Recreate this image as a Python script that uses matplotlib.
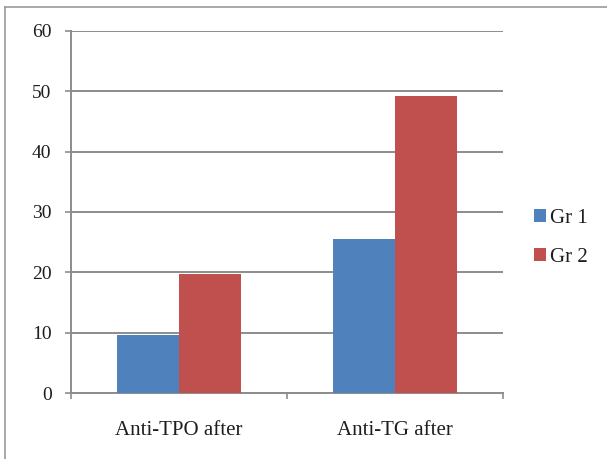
import matplotlib
matplotlib.use("Agg")
import matplotlib.pyplot as plt
import numpy as np
from matplotlib.lines import Line2D

categories = ["Anti-TPO after", "Anti-TG after"]
series_names = ["Gr 1", "Gr 2"]
gr1 = [9.6, 25.6]
gr2 = [19.7, 49.2]
yticks = [0, 10, 20, 30, 40, 50, 60]

colors = ["#4F81BD", "#C0504D"]
grid_col = "#8c8c8c"
font = ["Liberation Serif", "DejaVu Serif"]
text_col = "#1e1e1e"

fig = plt.figure(figsize=(6.07, 4.59), dpi=100)
ax = fig.add_axes([71/607, 1-393/459, (503-71)/607, (393-31)/459])

x = np.arange(len(categories))
w = 0.285
ax.bar(x - w/2, gr1, width=w, color=colors[0], label=series_names[0], zorder=3)
ax.bar(x + w/2, gr2, width=w, color=colors[1], label=series_names[1], zorder=3)

ax.set_xlim(-0.5, 1.5)
ax.set_ylim(0, 60)
ax.set_yticks(yticks)
ax.set_yticklabels([str(t) for t in yticks], fontfamily=font, fontsize=14, color=text_col)
ax.yaxis.grid(True, color=grid_col, linewidth=1.4, zorder=0)
ax.set_axisbelow(True)

ax.set_xticks([-0.5, 0.5, 1.5])
ax.set_xticklabels([])
ax.set_xticks(x, minor=True)
ax.set_xticklabels(categories, minor=True, fontfamily=font, fontsize=15, color=text_col)
ax.tick_params(axis="x", which="minor", length=0, pad=20)
ax.tick_params(axis="x", which="major", length=4, color=grid_col, width=1.2, direction="out")
ax.tick_params(axis="y", length=4, color=grid_col, width=1.2, pad=10)

for s in ["top", "right"]:
    ax.spines[s].set_visible(False)
for s in ["left", "bottom"]:
    ax.spines[s].set_color(grid_col)
    ax.spines[s].set_linewidth(1.4)

leg = fig.legend(loc="center left", bbox_to_anchor=(515/607, 1-238/459), frameon=False,
                 handlelength=0.6, handleheight=0.6, handletextpad=0.2, labelspacing=0.95,
                 prop={"family": font, "size": 15})
for t in leg.get_texts():
    t.set_color(text_col)

# figure frame (left and top edges)
fig.add_artist(Line2D([5/607, 5/607], [0, 1-7/459], transform=fig.transFigure, color="#9a9a9a", linewidth=1.2))
fig.add_artist(Line2D([5/607, 1], [1-7/459, 1-7/459], transform=fig.transFigure, color="#9a9a9a", linewidth=1.2))

fig.savefig("out.png", dpi=100)
